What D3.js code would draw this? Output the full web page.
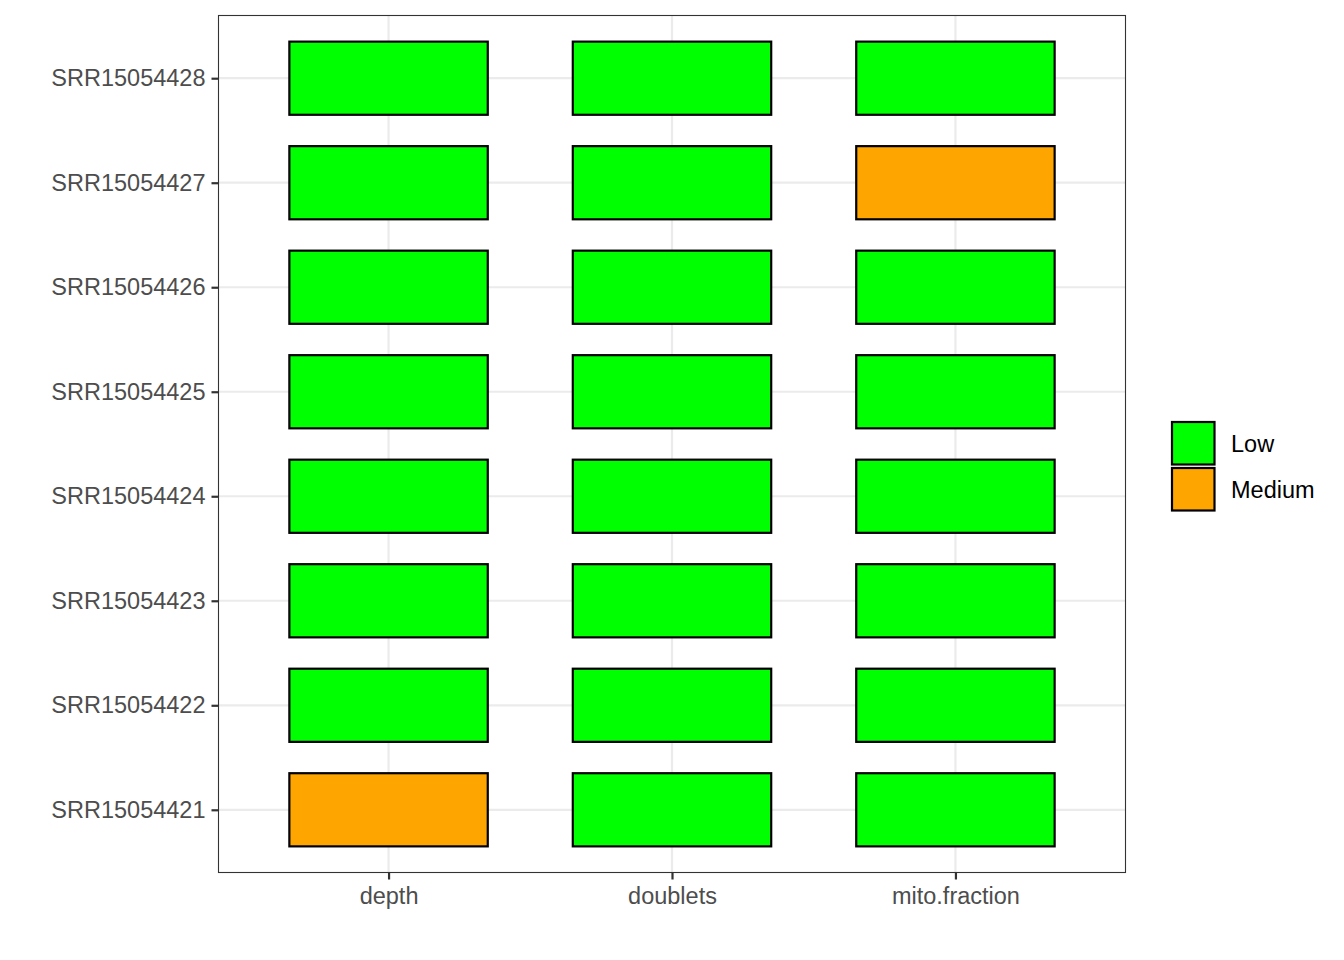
<!DOCTYPE html>
<html><head><meta charset="utf-8">
<script src="https://cdn.jsdelivr.net/npm/d3@7"></script>
<style>body{margin:0;background:#fff;} svg{display:block;font-family:"Liberation Sans",Arial,sans-serif;}</style>
</head><body>
<svg id="c" width="1344" height="960"></svg>
<script>
const metrics = ["depth", "doublets", "mito.fraction"];
const samples = ["SRR15054421","SRR15054422","SRR15054423","SRR15054424","SRR15054425","SRR15054426","SRR15054427","SRR15054428"];
const depthLevel   = ["Medium","Low","Low","Low","Low","Low","Low","Low"];
const doubletsLevel= ["Low","Low","Low","Low","Low","Low","Low","Low"];
const mitoLevel    = ["Low","Low","Low","Low","Low","Low","Medium","Low"];
const levels = ["Low","Medium"];
const levelColors = ["#00FF00","#FFA500"];

const cells = [];
samples.forEach((s,i)=>{
  cells.push({x:"depth",y:s,v:depthLevel[i]});
  cells.push({x:"doublets",y:s,v:doubletsLevel[i]});
  cells.push({x:"mito.fraction",y:s,v:mitoLevel[i]});
});

const svg = d3.select("#c");
const L=218.5, R=1125.5, T=15.5, B=872.5;
const x = d3.scalePoint().domain(metrics).range([L,R]).padding(0.6);
const y = d3.scalePoint().domain(samples).range([B,T]).padding(0.6);
const xs = x.step(), ys = y.step();
const color = d3.scaleOrdinal().domain(levels).range(levelColors);

const g = svg.append("g");
g.selectAll(".gx").data(metrics).enter().append("line")
  .attr("x1",d=>x(d)).attr("x2",d=>x(d)).attr("y1",T).attr("y2",B)
  .attr("stroke","#EBEBEB").attr("stroke-width",2.2);
g.selectAll(".gy").data(samples).enter().append("line")
  .attr("y1",d=>y(d)).attr("y2",d=>y(d)).attr("x1",L).attr("x2",R)
  .attr("stroke","#EBEBEB").attr("stroke-width",2.2);

g.selectAll(".tile").data(cells).enter().append("rect")
  .attr("x",d=>x(d.x)-xs*0.35).attr("y",d=>y(d.y)-ys*0.35)
  .attr("width",xs*0.7).attr("height",ys*0.7)
  .attr("fill",d=>color(d.v)).attr("stroke","#000").attr("stroke-width",2.2);

g.append("rect").attr("x",L).attr("y",T).attr("width",R-L).attr("height",B-T)
  .attr("fill","none").attr("stroke","#333").attr("stroke-width",1.1);

const xAxis = d3.axisBottom(x).tickSize(7).tickPadding(8);
const xg = svg.append("g").attr("transform",`translate(0,${B})`).call(xAxis);
const yAxis = d3.axisLeft(y).tickSize(7).tickPadding(6);
const yg = svg.append("g").attr("transform",`translate(${L},0)`).call(yAxis);
[xg,yg].forEach(a=>{
  a.select(".domain").remove();
  a.selectAll(".tick line").attr("stroke","#333").attr("stroke-width",2.2);
  a.selectAll(".tick text").attr("fill","#4D4D4D").attr("font-size","23.5px")
    .attr("font-family","'Liberation Sans',Arial,sans-serif");
});
xg.selectAll(".tick text").attr("dy","0.71em");
yg.selectAll(".tick text").attr("dy","0.32em");

const lg = svg.append("g").attr("transform","translate(1172,421)");
const key = 43.5;
levels.forEach((lv,i)=>{
  lg.append("rect").attr("x",0).attr("y",i*(key+2.5)+1).attr("width",key-1).attr("height",key-1)
    .attr("fill",color(lv)).attr("stroke","#000").attr("stroke-width",2.2);
  lg.append("text").attr("x",59).attr("y",i*(key+2.5)+key/2+1).attr("dy","0.35em")
    .attr("font-size","23.5px").attr("fill","#000").text(lv);
});
</script>
</body></html>
